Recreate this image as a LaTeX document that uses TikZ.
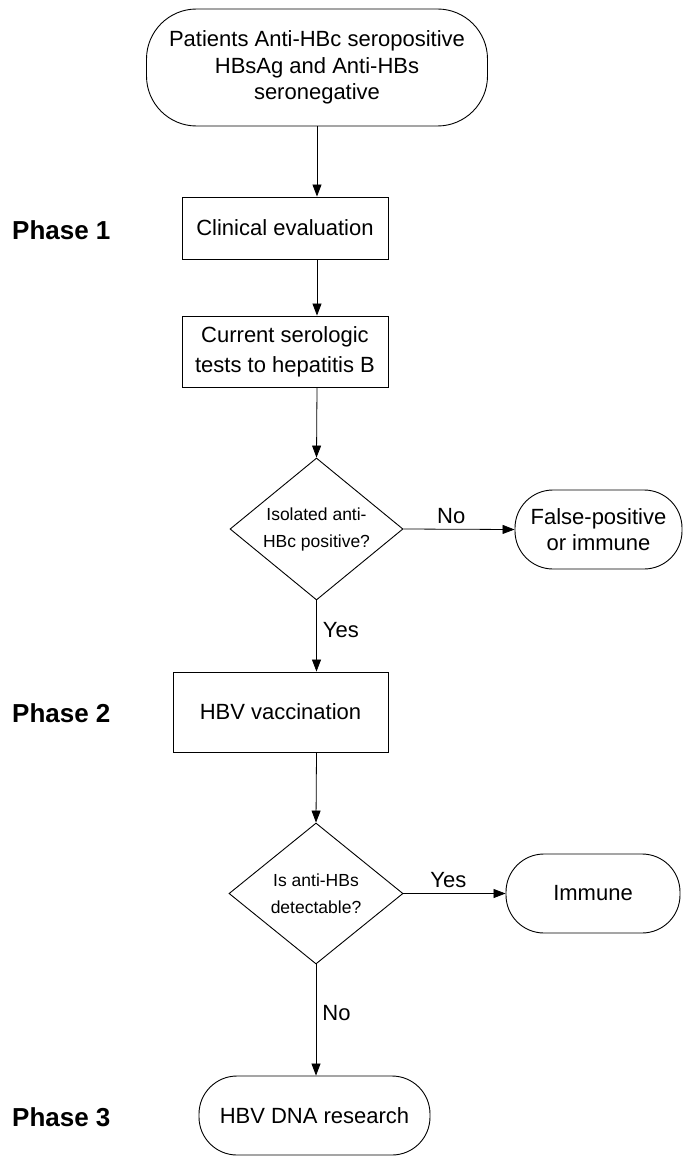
\documentclass[tikz,border=0pt]{standalone}
\usepackage{fontspec}
\setmainfont{Liberation Sans}
\usetikzlibrary{positioning,shapes.geometric,arrows.meta}

\begin{document}
\begin{tikzpicture}[
        x=1pt, y=-1pt,
        >={Triangle[length=12pt,width=9pt]},
        terminal/.style={rectangle, draw=black, rounded corners=38pt, line width=0.9pt, align=center, inner sep=0pt, font=\fontsize{22}{26.5}\selectfont},
        process/.style={rectangle, draw=black, line width=0.9pt, align=center, inner sep=0pt, font=\fontsize{22}{30}\selectfont},
        decision/.style={diamond, aspect=1.22, draw=black, line width=0.9pt, align=center, inner sep=0pt, font=\fontsize{17.5}{27}\selectfont},
        phase/.style={anchor=west, inner sep=0pt, font=\fontsize{26}{30}\selectfont\bfseries},
        answer/.style={inner sep=0pt, font=\fontsize{22}{26}\selectfont},
        flow/.style={->, line width=0.8pt, black}
    ]
    \useasboundingbox (0,0) rectangle (683,1156);

    % Start and phase 1
    \node[terminal, minimum width=341pt, minimum height=117pt, rounded corners=50pt] (start) at (317, 67.5) {Patients Anti-HBc seropositive\\HBsAg and Anti-HBs\\seronegative};
    \node[process, minimum width=206pt, minimum height=62pt] (clinical) at (285, 228) {Clinical evaluation};
    \node[process, minimum width=206pt, minimum height=71pt] (serology) at (285, 351.5) {Current serologic\\tests to hepatitis B};
    \node[decision, minimum width=173pt, minimum height=142pt] (isolated) at (316.5, 529) {Isolated anti-\\HBc positive?};
    \node[terminal, minimum width=167pt, minimum height=79pt] (falsepos) at (598.5, 529.5) {False-positive\\or immune};

    % Phase 2
    \node[process, minimum width=215pt, minimum height=80pt] (vaccine) at (280.5, 712) {HBV vaccination};
    \node[decision, minimum width=174pt, minimum height=141pt] (detect) at (316, 893.5) {Is anti-HBs\\detectable?};
    \node[terminal, minimum width=174pt, minimum height=79pt] (immune) at (593, 893.5) {Immune};

    % Phase 3
    \node[terminal, minimum width=231pt, minimum height=79pt] (dna) at (314.5, 1115.5) {HBV DNA research};

    % Phase labels
    \node[phase] (phase1) at (12, 230) {Phase 1};
    \node[phase] (phase2) at (12, 713) {Phase 2};
    \node[phase] (phase3) at (12, 1117) {Phase 3};

    % Connectors
    \draw[flow] (start.south) -- (start.south |- clinical.north);
    \draw[flow] (start.south |- clinical.south) -- (start.south |- serology.north);
    \draw[flow] (start.south |- serology.south) -- (isolated.north);
    \draw[flow] (isolated.east) -- node[answer, above=5pt, pos=0.43] {No} (falsepos.west);
    \draw[flow] (isolated.south) -- node[answer, right=6pt, pos=0.42] {Yes} (isolated.south |- vaccine.north);
    \draw[flow] (isolated.south |- vaccine.south) -- (detect.north);
    \draw[flow] (detect.east) -- node[answer, above=5pt, pos=0.44] {Yes} (immune.west);
    \draw[flow] (detect.south) -- node[answer, right=6pt, pos=0.44] {No} (detect.south |- dna.north);
\end{tikzpicture}
\end{document}
